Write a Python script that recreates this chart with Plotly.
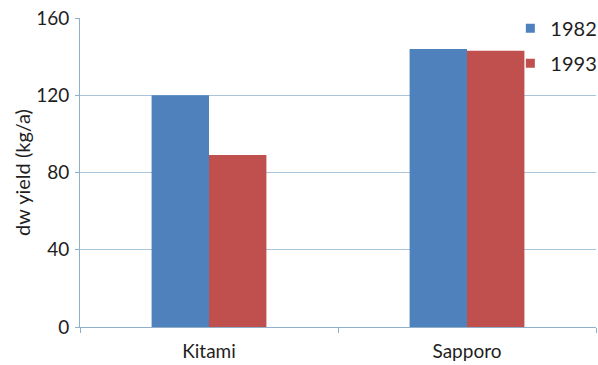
import plotly.graph_objects as go

# Dry-weight yield by site and year
sites = ["Kitami", "Sapporo"]
years = ["1982", "1993"]
yield_1982 = [120, 144]
yield_1993 = [89, 143]

colors = {"1982": "#4F81BD", "1993": "#C0504D"}
axis_color = "#8FB0C8"
text_color = "#1E1E1E"
font_family = "Lato, 'Open Sans', sans-serif"

fig = go.Figure()
for yr, vals in zip(years, [yield_1982, yield_1993]):
    fig.add_trace(go.Bar(
        x=sites, y=vals, name=yr, legendgroup=yr, showlegend=False,
        marker=dict(color=colors[yr], line=dict(width=0)),
    ))
    # small square legend key for the series
    fig.add_trace(go.Scatter(
        x=[None], y=[None], name=yr, legendgroup=yr, mode="markers",
        marker=dict(symbol="square", size=9, color=colors[yr]),
        showlegend=True, hoverinfo="skip",
    ))

# blank strip so the top gridline stops short of the legend
fig.add_shape(
    type="rect", xref="paper", yref="paper",
    x0=0.867, x1=1.02, y0=0.985, y1=1.015,
    fillcolor="white", line=dict(width=0), layer="above",
)

fig.update_layout(
    width=598, height=365,
    margin=dict(l=80, r=2, t=18, b=38, autoexpand=False),
    paper_bgcolor="white", plot_bgcolor="white",
    barmode="group", bargap=0.555, bargroupgap=0,
    font=dict(family=font_family, size=19, color=text_color),
    showlegend=True,
    legend=dict(
        x=0.834, xanchor="left", y=1.03, yanchor="top",
        bgcolor="rgba(0,0,0,0)", borderwidth=0,
        font=dict(size=20, color=text_color),
        traceorder="grouped", tracegroupgap=6,
        itemwidth=30,
    ),
    xaxis=dict(
        showline=True, linecolor=axis_color, linewidth=1,
        ticks="outside", tickson="boundaries", ticklen=5, tickcolor=axis_color,
        showgrid=False, tickfont=dict(size=19), ticklabelstandoff=7,
    ),
    yaxis=dict(
        range=[0, 160], tickvals=[0, 40, 80, 120, 160],
        showline=True, linecolor=axis_color, linewidth=1,
        ticks="outside", ticklen=4, tickcolor=axis_color,
        showgrid=True, gridcolor="#A9C5DA", gridwidth=1,
        zeroline=False, tickfont=dict(size=19), ticklabelstandoff=2,
        title=dict(text="dw yield (kg/a)", font=dict(size=20), standoff=0),
    ),
)

fig.write_html("out.html")
